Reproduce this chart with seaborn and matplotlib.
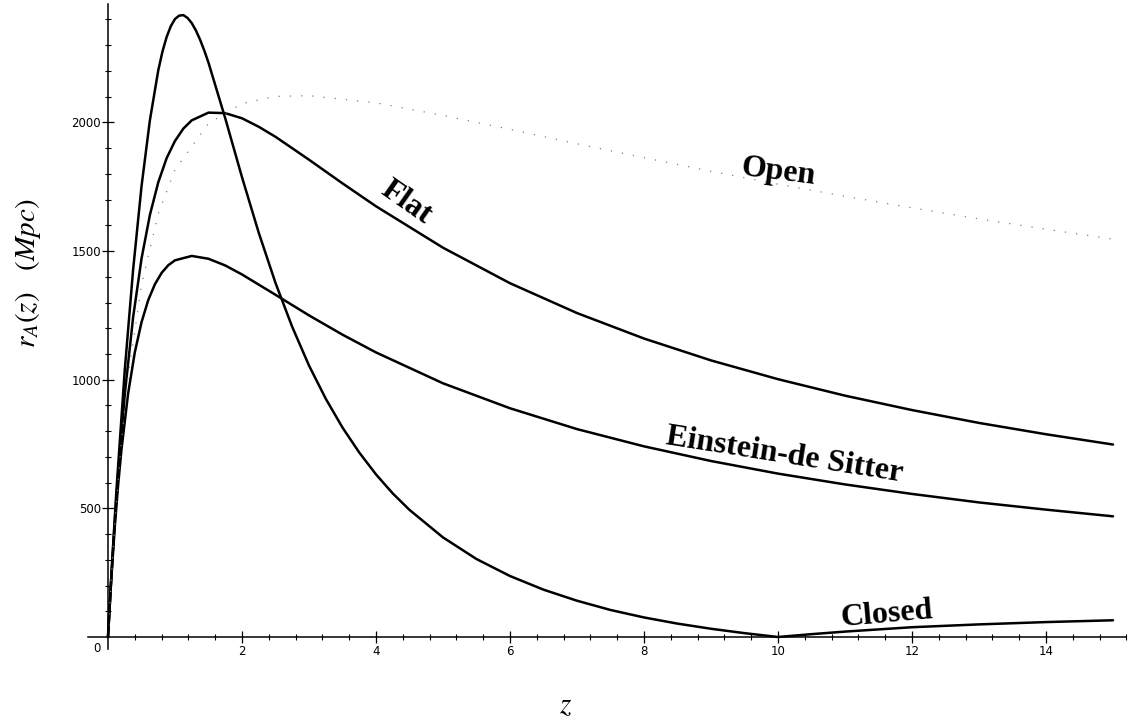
import numpy as np
import pandas as pd
import matplotlib
matplotlib.use("Agg")
import matplotlib.pyplot as plt
import seaborn as sns
from matplotlib.ticker import FixedLocator

# ---- data (z, r_A in Mpc) ----
z_closed = [0, 0.0625, 0.125, 0.25, 0.375, 0.5, 0.625, 0.75, 0.8125, 0.875, 0.9375, 1, 1.0625,
            1.125, 1.1875, 1.25, 1.3125, 1.375, 1.4375, 1.5, 1.75, 2, 2.25, 2.5, 2.75, 3, 3.25,
            3.5, 3.75, 4, 4.25, 4.5, 5, 5.5, 6, 6.5, 7, 7.5, 8, 8.5, 9, 9.5, 10, 10.5, 11, 12,
            13, 14, 15]
r_closed = [0, 297, 567, 1037, 1428, 1751, 2008, 2202, 2275, 2332, 2374, 2402, 2415,
            2417, 2406, 2386, 2357, 2321, 2279, 2232, 2016, 1787, 1571, 1376, 1205, 1055, 926,
            814, 717, 632, 558, 494, 387, 303, 237, 184, 141, 105, 76, 52, 32, 15, 0, 11, 21, 38,
            49, 58, 65]

z_flat = [0, 0.05, 0.1, 0.15, 0.25, 0.375, 0.5, 0.625, 0.75, 0.875, 1, 1.125, 1.25, 1.5, 1.75,
          2, 2.25, 2.5, 3, 3.5, 4, 5, 6, 7, 8, 9, 10, 11, 12, 13, 14, 15]
r_flat = [0, 235, 444, 630, 942, 1243, 1470, 1640, 1767, 1861, 1928, 1976, 2008, 2038, 2036,
          2016, 1983, 1944, 1855, 1763, 1674, 1513, 1375, 1259, 1160, 1075, 1002, 938, 882, 832,
          788, 748]

z_eds = [0, 0.025, 0.05, 0.1, 0.15, 0.2, 0.3, 0.4, 0.5, 0.6, 0.7, 0.8, 0.9, 1.0, 1.25, 1.5, 1.75,
         2, 2.5, 3, 3.5, 4, 5, 6, 7, 8, 9, 10, 11, 12, 13, 14, 15]
r_eds = [0, 120, 230, 423, 587, 726, 946, 1106, 1223, 1309, 1371, 1415, 1445, 1464, 1481, 1470, 1444,
         1409, 1330, 1250, 1175, 1106, 986, 889, 808, 741, 684, 635, 593, 556, 523, 495, 469]

z_open = [0, 0.05, 0.1, 0.2, 0.3, 0.5, 0.75, 1, 1.5, 2, 2.5, 3, 4, 5, 6, 7, 8, 9, 10, 11, 12,
          13, 14, 15]
r_open = [0, 232, 433, 760, 1012, 1368, 1645, 1816, 1996, 2073, 2101, 2104, 2076, 2027, 1973,
          1917, 1863, 1810, 1760, 1713, 1668, 1625, 1585, 1546]

x_major = [2, 4, 6, 8, 10, 12, 14]
y_major = [500, 1000, 1500, 2000]

labels = ["Open", "Flat", "Einstein-de Sitter", "Closed"]
label_pos = [(10.0, 1808, -7), (4.45, 1690, -35), (10.1, 707, -9), (11.62, 88, 5)]

# ---- style ----
sns.set_style("white")
plt.rcParams["font.family"] = ["DejaVu Sans"]
plt.rcParams["mathtext.fontset"] = "stix"
plt.rcParams["text.color"] = "black"

W, H = 1146, 725
fig = plt.figure(figsize=(W / 100, H / 100), dpi=100)
xmin, xmax = -0.3, 15.2
ymin, ymax = -45, 2470
px_per_z = 67.0
px_per_y = 0.2573
x0px, y0px = 108.0, 637.0
left = (x0px + xmin * px_per_z) / W
width = (xmax - xmin) * px_per_z / W
bottom = (H - (y0px - ymin * px_per_y)) / H
height = (ymax - ymin) * px_per_y / H
ax = fig.add_axes([left, bottom, width, height])
ax.set_xlim(xmin, xmax)
ax.set_ylim(ymin, ymax)

curves = [
    (z_closed, r_closed, "Closed"),
    (z_flat, r_flat, "Flat"),
    (z_eds, r_eds, "Einstein-de Sitter"),
]
for zz, rr, name in curves:
    df = pd.DataFrame({"z": zz, "r": rr})
    sns.lineplot(data=df, x="z", y="r", ax=ax, color="black", linewidth=1.8,
                 sort=False, estimator=None)
    ax.lines[-1].set_solid_joinstyle("round")

df_open = pd.DataFrame({"z": z_open, "r": r_open})
sns.lineplot(data=df_open, x="z", y="r", ax=ax, color="0.5", linewidth=0.9,
             sort=False, estimator=None)
ax.lines[-1].set_linestyle((0, (1, 8)))

# axes in Mathematica style: crossing at the origin
for s in ["top", "right"]:
    ax.spines[s].set_visible(False)
ax.spines["left"].set_position(("data", 0))
ax.spines["bottom"].set_position(("data", 0))
ax.spines["left"].set_linewidth(1.1)
ax.spines["bottom"].set_linewidth(1.1)
ax.spines["left"].set_color("black")
ax.spines["bottom"].set_color("black")
ax.spines["left"].set_bounds(ymin, 2460)

ax.xaxis.set_major_locator(FixedLocator(x_major))
ax.yaxis.set_major_locator(FixedLocator(y_major))
xminor = [round(0.4 * k, 2) for k in range(1, 39) if abs((0.4 * k) / 2 - round((0.4 * k) / 2)) > 1e-6]
ax.xaxis.set_minor_locator(FixedLocator(xminor))
ax.yaxis.set_minor_locator(FixedLocator([v for v in range(100, 2500, 100) if v % 500]))
ax.tick_params(axis="both", which="both", bottom=True, left=True, top=False, right=False)
ax.tick_params(axis="both", which="major", direction="inout", length=8, width=0.9,
               labelsize=8.5, colors="black")
ax.tick_params(axis="both", which="minor", direction="inout", length=4.5, width=0.8,
               colors="black")
ax.tick_params(axis="x", which="major", pad=1.5)
ax.tick_params(axis="y", which="major", pad=1)
ax.set_xlabel("")
ax.set_ylabel("")
ax.text(-0.17, -20, "0", ha="center", va="top", fontsize=8.5, color="black")

for text, (lx, ly, rot) in zip(labels, label_pos):
    ax.text(lx, ly, text, ha="center", va="center", rotation=rot, rotation_mode="anchor",
            fontsize=23, fontweight="bold", color="black",
            family=["Liberation Serif", "DejaVu Serif"])

fig.text(28 / W, 1 - 273 / H, r"$r_A(z)$   $(Mpc)$", rotation=90, ha="center", va="center",
         fontsize=21, family=["Liberation Serif"], color="black")
fig.text(566 / W, 1 - 705 / H, r"$z$", ha="center", va="center", fontsize=21, color="black")

fig.savefig("out.png", dpi=100, facecolor="white")
